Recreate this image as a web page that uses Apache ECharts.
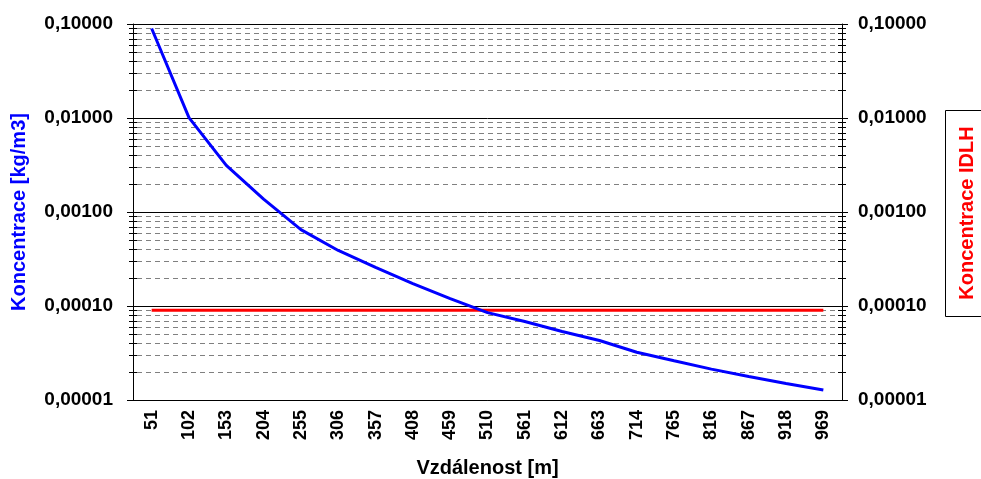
<!DOCTYPE html>
<html>
<head>
<meta charset="utf-8">
<script src="https://cdn.jsdelivr.net/npm/echarts@6/dist/echarts.min.js"></script>
<style>html,body{margin:0;padding:0;background:#fff;}#c{width:981px;height:479px;}</style>
</head>
<body>
<div id="c"></div>
<script>
// Data
const distances = ['51','102','153','204','255','306','357','408','459','510','561','612','663','714','765','816','867','918','969'];
const concentration = [0.0895, 0.0101, 0.00313, 0.00137, 0.00065, 0.00039, 0.000257, 0.000173, 0.00012, 0.000085, 0.0000684, 0.0000536, 0.000043, 0.0000322, 0.0000261, 0.0000213, 0.0000178, 0.000015, 0.0000128];
const idlhValue = 0.00009;
const idlh = distances.map(() => idlhValue);
const decades = [0.00001, 0.0001, 0.001, 0.01];
const minorMultipliers = [2, 3, 4, 5, 6, 7, 8, 9];

const minorValues = [];
decades.forEach(d => minorMultipliers.forEach(m => minorValues.push([0, d * m])));

const FONT = "'Liberation Sans', Arial, sans-serif";
const fmt = v => Number(v).toFixed(5).replace('.', ',');

const chart = echarts.init(document.getElementById('c'), null, {renderer: 'canvas'});
const yCommon = {
  type: 'log',
  logBase: 10,
  min: 0.00001,
  max: 0.1,
  axisLine: {show: true, lineStyle: {color: '#000', width: 1}},
  axisTick: {show: true, inside: false, length: 6, lineStyle: {color: '#000', width: 1}},
  minorTick: {show: false},
  axisLabel: {formatter: fmt, color: '#000', fontFamily: FONT, fontWeight: 'bold', fontSize: 19}
};
chart.setOption({
  animation: false,
  backgroundColor: '#fff',
  grid: {left: 133, right: 139, top: 24, bottom: 79, containLabel: false, outerBoundsMode: 'none'},
  xAxis: {
    type: 'category',
    data: distances,
    boundaryGap: true,
    axisLine: {show: true, lineStyle: {color: '#000', width: 1}},
    axisTick: {show: false},
    splitLine: {show: false},
    axisLabel: {rotate: 90, interval: 0, margin: 10, color: '#000', fontFamily: FONT, fontWeight: 'bold', fontSize: 18},
    name: 'Vzdálenost [m]',
    nameLocation: 'middle',
    nameGap: 58,
    nameMoveOverlap: false,
    nameTextStyle: {color: '#000', fontFamily: FONT, fontWeight: 'bold', fontSize: 20}
  },
  yAxis: [
    Object.assign({}, yCommon, {
      position: 'left',
      splitLine: {show: true, lineStyle: {color: '#000', width: 1}},
      axisLabel: Object.assign({}, yCommon.axisLabel, {margin: 20}),
      name: 'Koncentrace [kg/m3]',
      nameLocation: 'middle',
      nameRotate: 90,
      nameGap: 104,
      nameMoveOverlap: false,
      nameTextStyle: {color: '#0000ff', fontFamily: FONT, fontWeight: 'bold', fontSize: 20}
    }),
    Object.assign({}, yCommon, {
      position: 'right',
      splitLine: {show: false},
      axisLabel: Object.assign({}, yCommon.axisLabel, {margin: 16})
    })
  ],
  series: [
    {
      name: 'minor',
      type: 'custom',
      yAxisIndex: 0,
      clip: false,
      silent: true,
      z: 1,
      data: minorValues,
      renderItem: function (params, api) {
        const cs = params.coordSys;
        const y = Math.round(api.coord([0, api.value(1)])[1]) + 0.5;
        const x0 = cs.x, x1 = cs.x + cs.width;
        return {
          type: 'group',
          children: [
            {type: 'line', shape: {x1: x0 + 4, y1: y, x2: x1 - 4, y2: y}, style: {stroke: '#808080', lineWidth: 1, lineDash: [5, 4]}},
            {type: 'line', shape: {x1: x0 - 4, y1: y, x2: x0 + 4, y2: y}, style: {stroke: '#000', lineWidth: 1}},
            {type: 'line', shape: {x1: x1 - 4, y1: y, x2: x1 + 4, y2: y}, style: {stroke: '#000', lineWidth: 1}}
          ]
        };
      }
    },
    {
      name: 'Koncentrace IDLH',
      type: 'line',
      data: idlh,
      symbol: 'none',
      z: 3,
      lineStyle: {color: '#ff0000', width: 3},
      itemStyle: {color: '#ff0000'}
    },
    {
      name: 'Koncentrace',
      type: 'line',
      data: concentration,
      symbol: 'none',
      z: 4,
      lineStyle: {color: '#0000ff', width: 3},
      itemStyle: {color: '#0000ff'}
    }
  ],
  graphic: [
    {type: 'rect', shape: {x: 945.5, y: 110.5, width: 60, height: 206}, style: {fill: '#fff', stroke: '#000', lineWidth: 1}},
    {type: 'text', x: 967.5, y: 213, rotation: Math.PI / 2,
     style: {text: 'Koncentrace IDLH', fill: '#ff0000', font: "bold 20px 'Liberation Sans', Arial, sans-serif", align: 'center', verticalAlign: 'middle'}}
  ]
});
</script>
</body>
</html>
